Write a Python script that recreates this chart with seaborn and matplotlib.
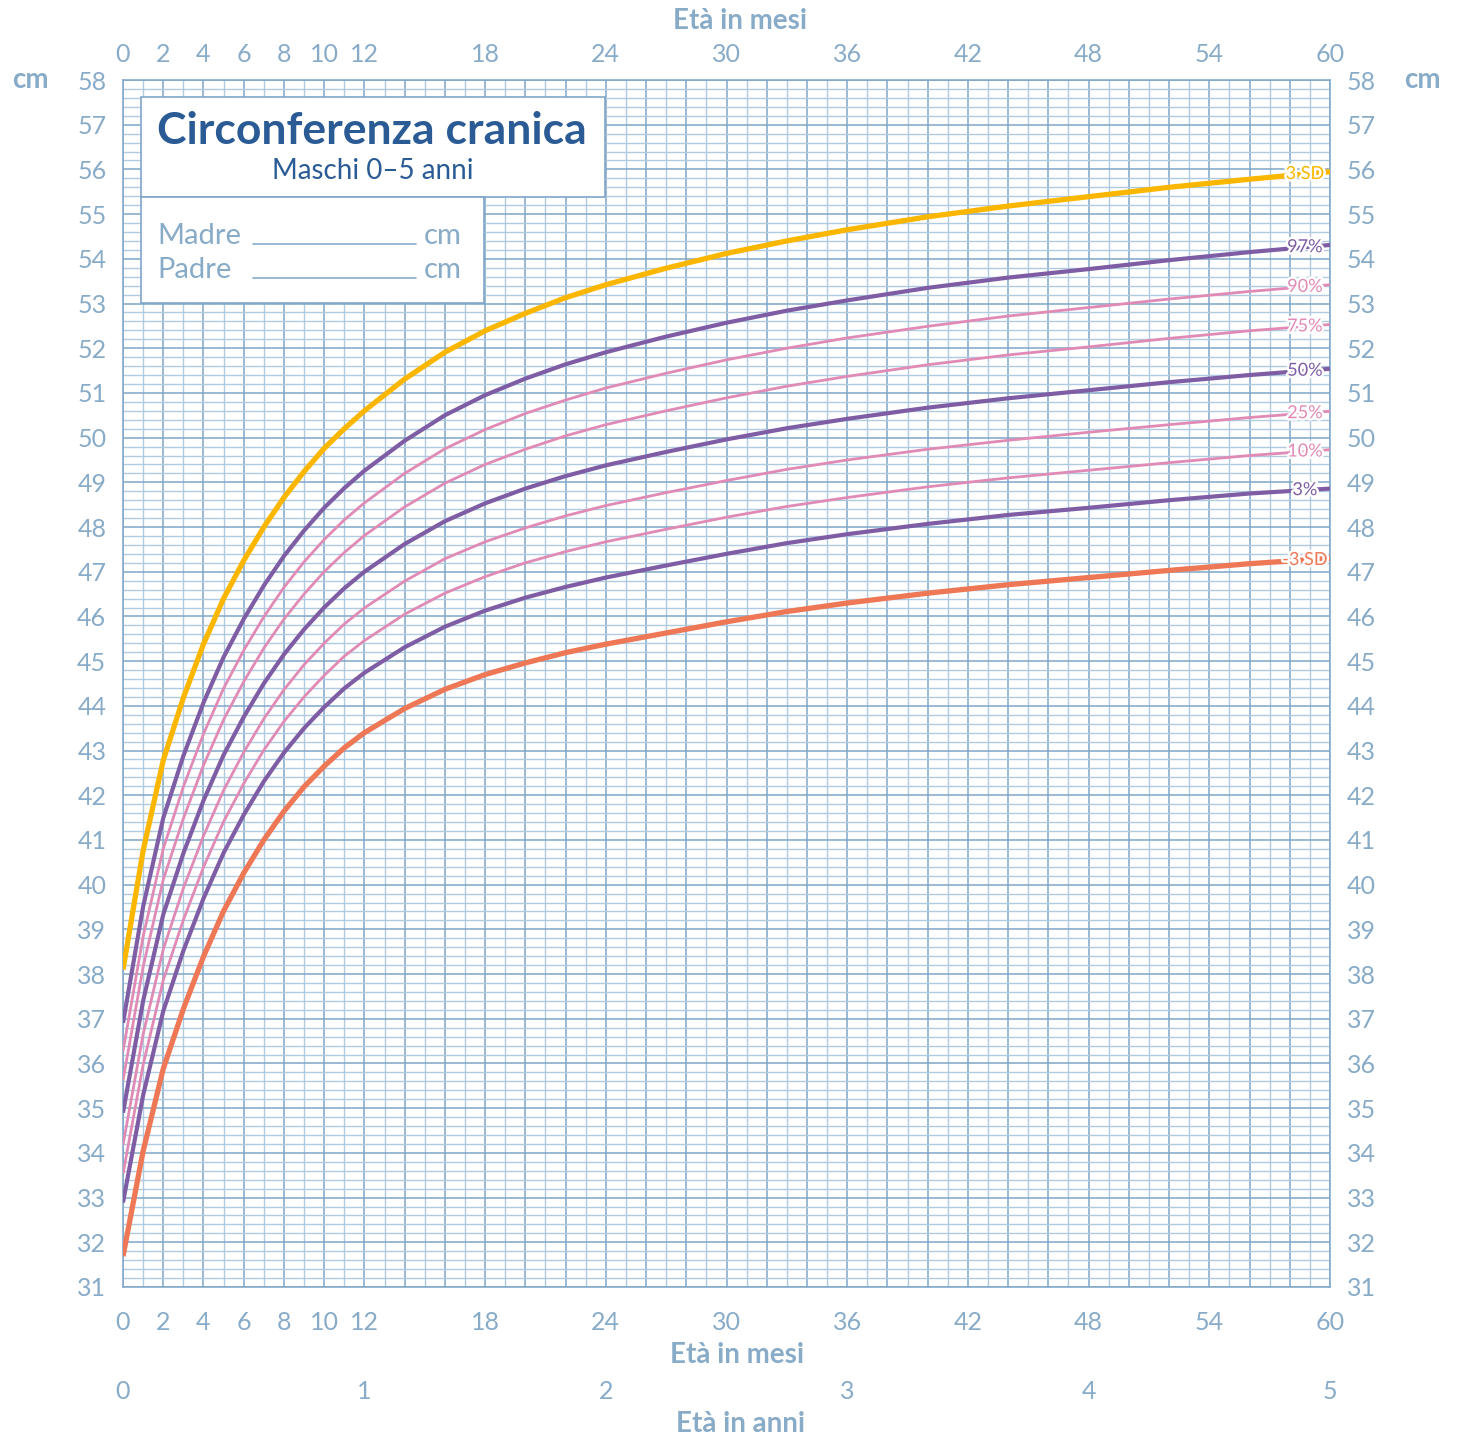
import numpy as np
import pandas as pd
import matplotlib
matplotlib.use("Agg")
import matplotlib.pyplot as plt
import matplotlib.patheffects as pe
from matplotlib.patches import Rectangle
from matplotlib.ticker import MultipleLocator
import seaborn as sns

# ---------------- data ----------------
months = [0, 1, 2, 3, 4, 5, 6, 7, 8, 9, 10, 11, 12, 14, 16, 18, 20, 22, 24, 27, 30, 33, 36,
          40, 44, 48, 52, 56, 60]

sd_plus3 = [38.10, 40.76, 42.78, 44.18, 45.38, 46.40, 47.25, 48.00, 48.66, 49.24, 49.76, 50.20,
            50.60, 51.31, 51.91, 52.39, 52.78, 53.13, 53.42, 53.79, 54.12, 54.40, 54.65,
            54.94, 55.18, 55.39, 55.60, 55.78, 55.95]
p97 = [36.91, 39.51, 41.49, 42.88, 44.07, 45.09, 45.94, 46.69, 47.35, 47.92, 48.43, 48.87,
       49.26, 49.93, 50.50, 50.95, 51.32, 51.64, 51.91, 52.26, 52.57, 52.84, 53.07,
       53.35, 53.58, 53.77, 53.97, 54.15, 54.31]
p90 = [36.27, 38.84, 40.80, 42.19, 43.37, 44.39, 45.24, 45.99, 46.65, 47.22, 47.72, 48.16,
       48.54, 49.20, 49.75, 50.18, 50.54, 50.84, 51.11, 51.44, 51.74, 52.00, 52.23,
       52.49, 52.72, 52.91, 53.10, 53.27, 53.42]
p75 = [35.62, 38.16, 40.11, 41.48, 42.67, 43.69, 44.54, 45.29, 45.94, 46.50, 47.00, 47.43,
       47.81, 48.45, 48.98, 49.40, 49.74, 50.04, 50.29, 50.60, 50.89, 51.15, 51.37,
       51.63, 51.85, 52.03, 52.22, 52.39, 52.53]
p50 = [34.90, 37.40, 39.33, 40.70, 41.88, 42.90, 43.75, 44.50, 45.15, 45.71, 46.20, 46.63,
       47.00, 47.62, 48.13, 48.53, 48.86, 49.14, 49.38, 49.68, 49.96, 50.21, 50.42,
       50.67, 50.88, 51.06, 51.24, 51.40, 51.54]
p25 = [34.18, 36.65, 38.55, 39.92, 41.09, 42.11, 42.96, 43.71, 44.36, 44.92, 45.40, 45.83,
       46.19, 46.79, 47.29, 47.67, 47.98, 48.25, 48.48, 48.77, 49.04, 49.29, 49.50,
       49.74, 49.94, 50.12, 50.29, 50.45, 50.59]
p10 = [33.53, 35.97, 37.86, 39.21, 40.39, 41.41, 42.26, 43.01, 43.65, 44.20, 44.68, 45.11,
       45.46, 46.05, 46.52, 46.89, 47.20, 47.45, 47.67, 47.95, 48.22, 48.46, 48.66,
       48.90, 49.10, 49.27, 49.44, 49.60, 49.73]
p3 = [32.89, 35.29, 37.17, 38.52, 39.69, 40.71, 41.56, 42.31, 42.95, 43.50, 43.97, 44.39,
      44.74, 45.31, 45.77, 46.13, 46.42, 46.66, 46.87, 47.14, 47.40, 47.64, 47.84,
      48.07, 48.27, 48.43, 48.60, 48.75, 48.86]
sd_minus3 = [31.69, 34.04, 35.88, 37.22, 38.39, 39.41, 40.26, 41.00, 41.64, 42.19, 42.65, 43.06,
             43.40, 43.94, 44.37, 44.70, 44.96, 45.19, 45.38, 45.63, 45.88, 46.11, 46.30,
             46.52, 46.71, 46.87, 47.03, 47.18, 47.30]

curve_labels = ["3 SD", "97%", "90%", "75%", "50%", "25%", "10%", "3%", "-3 SD"]
month_ticks = [0, 2, 4, 6, 8, 10, 12, 18, 24, 30, 36, 42, 48, 54, 60]
year_ticks = [0, 1, 2, 3, 4, 5]
title = "Circonferenza cranica"
subtitle = "Maschi 0–5 anni"

# ---------------- style ----------------
GOLD = "#FBB700"
PURPLE = "#7E5DA5"
PINK = "#E08AB6"
ORANGE = "#EE7756"
LABEL_C = "#88ABC8"
TITLE_C = "#2A5B95"
GRID_MAJ = "#80A6C8"
GRID_MIN = "#B0CAE0"

series = [sd_plus3, p97, p90, p75, p50, p25, p10, p3, sd_minus3]
colors = [GOLD, PURPLE, PINK, PINK, PURPLE, PINK, PINK, PURPLE, ORANGE]
widths = [3.8, 3.0, 2.0, 2.0, 3.0, 2.0, 2.0, 3.0, 3.8]

sns.set_theme(style="white")
plt.rcParams['font.family'] = ['Lato', 'DejaVu Sans']

fig = plt.figure(figsize=(14.59, 14.39), dpi=100)
W, H = 1459, 1439
ax = fig.add_axes([123 / W, 1 - 1287 / H, 1207 / W, 1207 / H])

ax.set_xlim(0, 60)
ax.set_ylim(31, 58)
ax.xaxis.set_major_locator(MultipleLocator(2))
ax.xaxis.set_minor_locator(MultipleLocator(1))
ax.yaxis.set_major_locator(MultipleLocator(1))
ax.yaxis.set_minor_locator(MultipleLocator(0.2))
ax.grid(which='major', color=GRID_MAJ, lw=1.1)
ax.grid(which='minor', color=GRID_MIN, lw=1.0)
ax.set_axisbelow(True)
for s in ax.spines.values():
    s.set_color(GRID_MAJ)
    s.set_linewidth(1.1)

ax.tick_params(which='both', length=0)
ax.tick_params(axis='x', labelbottom=False, labeltop=False)
ax.tick_params(axis='y', labelleft=True, labelright=True, labelsize=18,
               labelcolor=LABEL_C, pad=12)

for vals, c, lw, lab in zip(series, colors, widths, curve_labels):
    df = pd.DataFrame({"mese": months, "cm": vals})
    sns.lineplot(data=df, x="mese", y="cm", color=c, linewidth=lw, ax=ax,
                 zorder=3, solid_capstyle='butt')
    xl = 58.75
    yl = float(np.interp(xl, months, vals))
    ax.text(xl, yl, lab, ha='center', va='center', fontsize=13, color=c,
            zorder=5, path_effects=[pe.withStroke(linewidth=3.5, foreground='white')])

ax.set_xlabel("")
ax.set_ylabel("")

# month axes (top / bottom)
sec_top = ax.secondary_xaxis('top')
sec_top.set_xticks(month_ticks)
sec_top.set_xticklabels([str(m) for m in month_ticks])
sec_top.tick_params(length=0, pad=10, labelsize=18, labelcolor=LABEL_C)
sec_top.spines['top'].set_visible(False)

sec_bot = ax.secondary_xaxis('bottom')
sec_bot.set_xticks(month_ticks)
sec_bot.set_xticklabels([str(m) for m in month_ticks])
sec_bot.tick_params(length=0, pad=17, labelsize=18, labelcolor=LABEL_C)
sec_bot.spines['bottom'].set_visible(False)

sec_yr = ax.secondary_xaxis(-0.061, functions=(lambda m: m / 12.0, lambda y: y * 12.0))
sec_yr.set_xticks(year_ticks)
sec_yr.set_xticklabels([str(y) for y in year_ticks])
sec_yr.tick_params(length=0, pad=14, labelsize=18, labelcolor=LABEL_C)
sec_yr.spines['bottom'].set_visible(False)

# axis titles
fig.text(740 / W, 1 - 21 / H, "Età in mesi", ha='center', va='center', fontsize=20,
         fontweight='bold', color=LABEL_C)
fig.text(737 / W, 1 - 1355 / H, "Età in mesi", ha='center', va='center', fontsize=20,
         fontweight='bold', color=LABEL_C)
fig.text(740 / W, 1 - 1424 / H, "Età in anni", ha='center', va='center', fontsize=20,
         fontweight='bold', color=LABEL_C)
fig.text(30 / W, 1 - 80 / H, "cm", ha='center', va='center', fontsize=20,
         fontweight='bold', color=LABEL_C)
fig.text(1422 / W, 1 - 80 / H, "cm", ha='center', va='center', fontsize=20,
         fontweight='bold', color=LABEL_C)

# white info boxes
def fx(px):
    return (px - 123) / 1207.0

def fy(py):
    return 1 - (py - 80) / 1207.0

box1 = Rectangle((fx(141), fy(197)), fx(605) - fx(141), fy(97) - fy(197),
                 transform=ax.transAxes, facecolor='white', edgecolor=GRID_MAJ,
                 lw=1.2, zorder=2)
box2 = Rectangle((fx(141), fy(303)), fx(484) - fx(141), fy(197) - fy(303),
                 transform=ax.transAxes, facecolor='white', edgecolor=GRID_MAJ,
                 lw=1.2, zorder=2)
ax.add_patch(box1)
ax.add_patch(box2)

ax.text(fx(157), fy(131), title, transform=ax.transAxes, ha='left', va='center',
        fontsize=32, fontweight='bold', color=TITLE_C, zorder=4)
ax.text(fx(373), fy(171), subtitle, transform=ax.transAxes, ha='center', va='center',
        fontsize=20, color=TITLE_C, zorder=4)
for lab, py in [("Madre", 236), ("Padre", 270)]:
    ax.text(fx(157), fy(py), lab, transform=ax.transAxes, ha='left', va='center',
            fontsize=21, color=LABEL_C, zorder=4)
    ax.text(fx(424), fy(py), "cm", transform=ax.transAxes, ha='left', va='center',
            fontsize=21, color=LABEL_C, zorder=4)
    ax.plot([fx(253), fx(416)], [fy(py + 8), fy(py + 8)], transform=ax.transAxes,
            color=LABEL_C, lw=1.2, zorder=4)

fig.savefig("out.png", dpi=100, facecolor='white')
